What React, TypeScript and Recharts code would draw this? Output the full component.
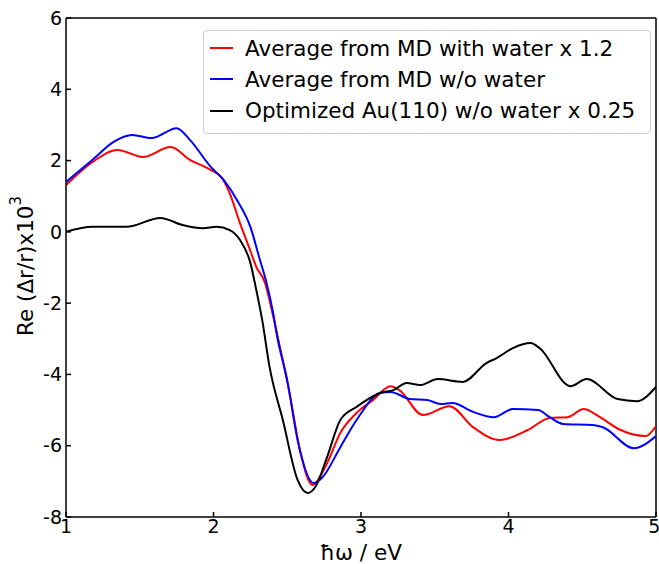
import React from 'react';
import { LineChart, Line, XAxis, YAxis, ReferenceLine } from 'recharts';

const redX = [1.0, 1.18, 1.35, 1.52, 1.71, 1.84, 1.98, 2.06, 2.11, 2.18, 2.24, 2.29, 2.35, 2.39, 2.44, 2.52, 2.59, 2.67, 2.77, 2.86, 2.97, 3.08, 3.20, 3.26, 3.42, 3.60, 3.76, 3.94, 4.13, 4.28, 4.40, 4.51, 4.62, 4.76, 4.93, 5.0];
const redY = [1.31, 1.96, 2.30, 2.10, 2.38, 2.02, 1.74, 1.50, 1.08, 0.24, -0.42, -0.98, -1.44, -2.10, -3.03, -4.63, -6.20, -7.10, -6.49, -5.64, -5.08, -4.72, -4.33, -4.44, -5.14, -4.89, -5.48, -5.84, -5.56, -5.22, -5.20, -4.97, -5.20, -5.56, -5.73, -5.45];

const blueX = [1.0, 1.18, 1.32, 1.45, 1.58, 1.75, 1.84, 1.98, 2.07, 2.16, 2.25, 2.315, 2.36, 2.405, 2.43, 2.50, 2.57, 2.68, 2.74, 2.86, 2.97, 3.13, 3.20, 3.33, 3.45, 3.54, 3.62, 3.76, 3.90, 4.03, 4.20, 4.28, 4.37, 4.57, 4.64, 4.85, 5.0];
const blueY = [1.40, 2.02, 2.52, 2.72, 2.63, 2.91, 2.58, 1.83, 1.45, 0.89, 0.14, -0.79, -1.44, -2.29, -2.90, -4.16, -5.84, -7.05, -6.88, -6.04, -5.28, -4.52, -4.49, -4.69, -4.72, -4.83, -4.80, -5.05, -5.20, -4.97, -5.00, -5.20, -5.39, -5.42, -5.48, -6.07, -5.73];

const blackX = [1.0, 1.18, 1.41, 1.64, 1.79, 1.93, 2.02, 2.11, 2.18, 2.25, 2.29, 2.33, 2.38, 2.47, 2.57, 2.64, 2.69, 2.77, 2.86, 2.97, 3.13, 3.22, 3.31, 3.40, 3.52, 3.69, 3.85, 3.92, 4.03, 4.15, 4.21, 4.42, 4.53, 4.74, 4.87, 5.0];
const blackY = [0.0, 0.14, 0.14, 0.39, 0.19, 0.10, 0.14, 0.05, -0.23, -0.87, -1.63, -2.47, -3.79, -5.28, -6.96, -7.33, -7.16, -6.32, -5.28, -4.91, -4.52, -4.44, -4.24, -4.30, -4.13, -4.21, -3.68, -3.54, -3.26, -3.12, -3.26, -4.33, -4.13, -4.69, -4.75, -4.35];

const xTicks = [1, 2, 3, 4, 5];
const yTicks = [-8, -6, -4, -2, 0, 2, 4, 6];

const seriesNames = [
  'Average from MD with water x 1.2',
  'Average from MD w/o water',
  'Optimized Au(110) w/o water x 0.25',
];
const seriesColors = ['#ff0000', '#0000ff', '#000000'];

const toData = (xs: number[], ys: number[]) => xs.map((x, i) => ({ x, y: ys[i] }));
const redData = toData(redX, redY);
const blueData = toData(blueX, blueY);
const blackData = toData(blackX, blackY);

const FONT = 'DejaVu Sans';
const LABEL_SIZE = 21.5;
const TICK_SIZE = 19;

const LegendBox = () => (
  <div
    style={{
      position: 'absolute',
      left: 203,
      top: 30,
      width: 440,
      height: 100,
      border: '1px solid #cccccc',
      borderRadius: 4,
      background: 'rgba(255,255,255,0.8)',
      padding: '1.5px 0 0 6px',
      fontFamily: FONT,
      fontSize: LABEL_SIZE,
      color: '#000',
      boxSizing: 'content-box',
    }}
  >
    {seriesNames.map((n, i) => (
      <div key={n} style={{ display: 'flex', alignItems: 'center', height: 31.3, whiteSpace: 'nowrap' }}>
        <div style={{ width: 23, height: 2, background: seriesColors[i], marginRight: 12 }} />
        <span>{n}</span>
      </div>
    ))}
  </div>
);

const YLabel = () => (
  <text
    x={25}
    y={266}
    transform="rotate(-90 25 266)"
    textAnchor="middle"
    dominantBaseline="central"
    fontFamily={FONT}
    fontSize={LABEL_SIZE}
    fill="#000"
  >
    Re (Δr/r)x10
    <tspan fontSize={15} dy={-9}>3</tspan>
  </text>
);

const XLabel = () => (
  <text
    x={361}
    y={552}
    textAnchor="middle"
    dominantBaseline="central"
    fontFamily={FONT}
    fontSize={LABEL_SIZE}
    fill="#000"
  >
    ħω / eV
  </text>
);

export default function App() {
  return (
    <div style={{ position: 'absolute', left: 0, top: 0, width: 659, height: 564, background: '#fff' }}>
      <LineChart width={659} height={564} margin={{ top: 18, right: 3, bottom: 0, left: 0 }}>
        <XAxis
          xAxisId="b"
          dataKey="x"
          type="number"
          domain={[1, 5]}
          ticks={xTicks}
          allowDataOverflow
          height={47}
          stroke="#000"
          strokeWidth={1.5}
          tickSize={-5}
          tickMargin={8}
          tick={{ fill: '#000', fontFamily: FONT, fontSize: TICK_SIZE }}
          label={<XLabel />}
        />
        <YAxis
          yAxisId="l"
          type="number"
          domain={[-8, 6]}
          ticks={yTicks}
          allowDataOverflow
          width={66}
          stroke="#000"
          strokeWidth={1.5}
          tickSize={-5}
          tickMargin={9}
          tick={{ fill: '#000', fontFamily: FONT, fontSize: TICK_SIZE }}
          label={<YLabel />}
        />
        <ReferenceLine xAxisId="b" yAxisId="l" y={6} stroke="#000" strokeWidth={1.5} />
        <ReferenceLine xAxisId="b" yAxisId="l" x={5} stroke="#000" strokeWidth={1.5} />
        <Line xAxisId="b" yAxisId="l" data={redData} dataKey="y" type="monotone" stroke={seriesColors[0]} strokeWidth={2} dot={false} isAnimationActive={false} />
        <Line xAxisId="b" yAxisId="l" data={blueData} dataKey="y" type="monotone" stroke={seriesColors[1]} strokeWidth={2} dot={false} isAnimationActive={false} />
        <Line xAxisId="b" yAxisId="l" data={blackData} dataKey="y" type="monotone" stroke={seriesColors[2]} strokeWidth={2} dot={false} isAnimationActive={false} />
      </LineChart>
      <LegendBox />
    </div>
  );
}
